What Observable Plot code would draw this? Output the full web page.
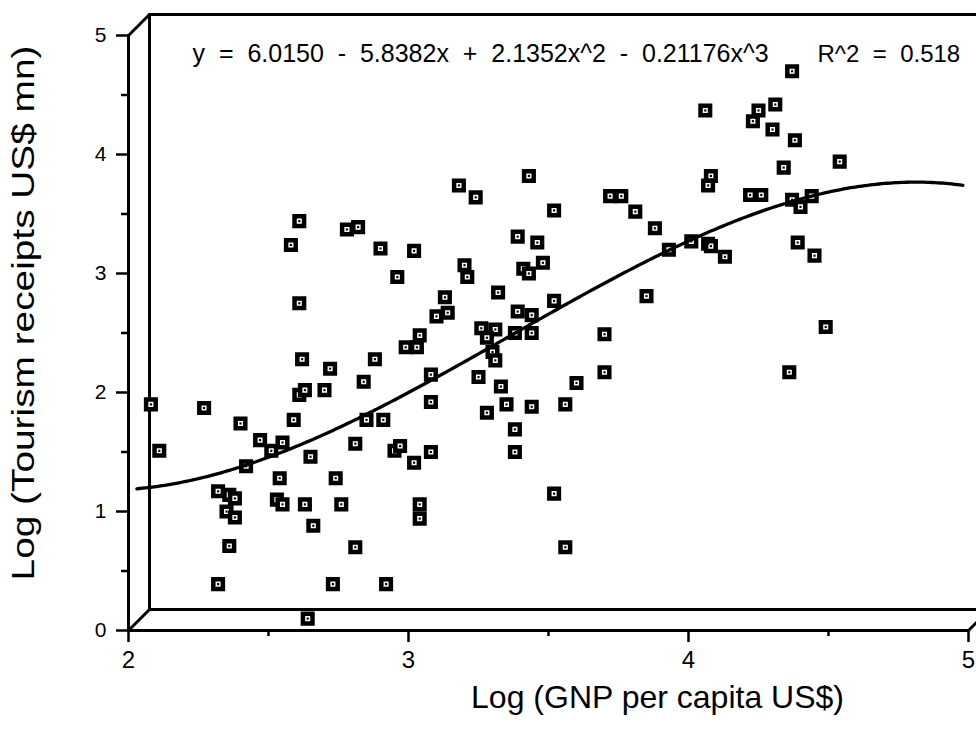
<!DOCTYPE html>
<html>
<head>
<meta charset="utf-8">
<script src="https://cdn.jsdelivr.net/npm/d3@7"></script>
<script src="https://cdn.jsdelivr.net/npm/@observablehq/plot@0.6"></script>
<style>
  html, body { margin: 0; padding: 0; background: #fff; }
  #chart svg { display: block; }
</style>
</head>
<body>
<div id="chart"></div>
<script>
// Log GNP per capita (US$) for each country
const gnp = [
  2.61, 2.78, 2.82, 2.58, 2.90, 3.02, 3.24, 3.52, 3.39, 3.46,
  3.20, 3.21, 2.96, 3.41, 3.43, 3.48, 3.32, 3.13, 2.61, 3.10,
  3.14, 3.39, 3.44, 3.52, 3.26, 3.31, 3.28, 3.38, 3.44, 3.04,
  2.99, 3.03, 3.30, 3.31, 2.62, 2.88, 2.72, 3.25, 3.08, 2.84,
  3.33, 2.61, 2.63, 2.70, 2.08, 2.27, 3.08, 3.35, 3.44, 3.28,
  2.40, 2.59, 2.85, 2.91, 3.38, 3.56, 4.37, 4.06, 4.31, 4.25,
  4.23, 4.30, 4.38, 4.54, 4.34, 4.08, 4.07, 3.72, 3.76, 3.81,
  4.22, 4.26, 4.37, 4.44, 4.40, 3.88, 3.93, 4.01, 4.07, 4.08,
  4.13, 4.39, 4.45, 3.85, 3.70, 4.49, 3.38, 2.11, 2.47, 2.55,
  2.51, 2.65, 2.81, 2.95, 2.97, 3.02, 3.08, 2.42, 2.54, 2.74,
  2.32, 2.36, 2.38, 2.35, 2.38, 2.53, 2.55, 2.63, 2.76, 3.04,
  3.04, 2.66, 2.36, 2.81, 2.32, 2.73, 2.92, 2.64, 3.52, 3.56,
  3.70, 3.60, 4.36, 3.18, 3.43
];

// Log tourism receipts (US$ mn) for the same countries
const tourism = [
  3.44, 3.37, 3.39, 3.24, 3.21, 3.19, 3.64, 3.53, 3.31, 3.26,
  3.07, 2.97, 2.97, 3.04, 3.00, 3.09, 2.84, 2.80, 2.75, 2.64,
  2.67, 2.68, 2.65, 2.77, 2.54, 2.53, 2.46, 2.50, 2.50, 2.48,
  2.38, 2.38, 2.34, 2.27, 2.28, 2.28, 2.20, 2.13, 2.15, 2.09,
  2.05, 1.98, 2.02, 2.02, 1.90, 1.87, 1.92, 1.90, 1.88, 1.83,
  1.74, 1.77, 1.77, 1.77, 1.69, 1.90, 4.70, 4.37, 4.42, 4.37,
  4.28, 4.21, 4.12, 3.94, 3.89, 3.82, 3.74, 3.65, 3.65, 3.52,
  3.66, 3.66, 3.62, 3.65, 3.56, 3.38, 3.20, 3.27, 3.25, 3.23,
  3.14, 3.26, 3.15, 2.81, 2.49, 2.55, 1.50, 1.51, 1.60, 1.58,
  1.51, 1.46, 1.57, 1.51, 1.55, 1.41, 1.50, 1.38, 1.28, 1.28,
  1.17, 1.14, 1.11, 1.00, 0.95, 1.10, 1.06, 1.06, 1.06, 1.06,
  0.94, 0.88, 0.71, 0.70, 0.39, 0.39, 0.39, 0.10, 1.15, 0.70,
  2.17, 2.08, 2.17, 3.74, 3.82
];

// Axis ticks
const xTicks = [2, 3, 4, 5];
const xMinorTicks = [2.5, 3.5, 4.5];
const yTicks = [0, 1, 2, 3, 4, 5];
const yMinorTicks = [0.5, 1.5, 2.5, 3.5, 4.5];

// Titles
const xTitle = "Log (GNP per capita US$)";
const yTitle = "Log (Tourism receipts US$ mn)";

// Cubic fit: coefficients as printed, with their signs
const coefText = ["6.0150", "5.8382", "2.1352", "0.21176"];
const coefSign = [1, -1, 1, -1];
const rSquared = "0.518";
const fitRange = [2.03, 4.98];

const coefs = coefText.map((t, i) => coefSign[i] * Number(t));
const poly = x => coefs[0] + coefs[1] * x + coefs[2] * x * x + coefs[3] * x * x * x;
const termText = ["", "x", "x^2", "x^3"];
const gap = " \u00a0"; // wide gap around operators
const equation = "y" + gap + "=" + gap + coefText.map((t, i) =>
  (i === 0 ? "" : gap + (coefSign[i] < 0 ? "-" : "+") + gap) + t + termText[i]).join("");
const rLabel = "R^2" + gap + "=" + gap + rSquared;
const fitX = d3.range(fitRange[0], fitRange[1] + 1e-9, 0.01);

// Plot geometry
const W = 976, H = 730;
const mL = 128, mR = 8, mT = 35, mB = 100;
const xDomain = [2, 5], yDomain = [0, 5];
// pseudo-3D depth of the back panel, in pixels, converted to data units
const depthPx = 21;
const kx = (W - mL - mR) / (xDomain[1] - xDomain[0]);
const ky = (H - mT - mB) / (yDomain[1] - yDomain[0]);
const dX = depthPx / kx, dY = depthPx / ky;

const frame = [
  // front axes
  {x1: 2, y1: 0, x2: 2, y2: 5},
  {x1: 2, y1: 0, x2: 5, y2: 0},
  // back panel
  {x1: 2 + dX, y1: dY, x2: 2 + dX, y2: 5 + dY},
  {x1: 2 + dX, y1: dY, x2: 5.5, y2: dY},
  {x1: 2 + dX, y1: 5 + dY, x2: 5.5, y2: 5 + dY},
  // depth edges
  {x1: 2, y1: 0, x2: 2 + dX, y2: dY},
  {x1: 2, y1: 5, x2: 2 + dX, y2: 5 + dY},
  {x1: 5, y1: 0, x2: 5 + dX, y2: dY}
];

const idx = d3.range(gnp.length);
const intFormat = d => String(d);
const xLabelSize = 24, yLabelSize = 21;

const chart = Plot.plot({
  width: W,
  height: H,
  marginLeft: mL,
  marginRight: mR,
  marginTop: mT,
  marginBottom: mB,
  style: {
    fontFamily: "'Liberation Sans', Arial, Helvetica, sans-serif",
    color: "black",
    background: "white",
    overflow: "hidden"
  },
  x: {domain: xDomain},
  y: {domain: yDomain},
  marks: [
    Plot.link(frame, {
      x1: "x1", y1: "y1", x2: "x2", y2: "y2",
      stroke: "black", strokeWidth: 3, strokeLinecap: "round"
    }),
    Plot.axisX({ticks: xTicks, tickFormat: intFormat, tickSize: 12, tickPadding: 8, fontSize: xLabelSize, strokeWidth: 2.5, label: null}),
    Plot.axisX({ticks: xMinorTicks, tickFormat: () => "", tickSize: 6, strokeWidth: 2.5, label: null}),
    Plot.axisY({ticks: yTicks, tickFormat: intFormat, tickSize: 12, tickPadding: 10, fontSize: yLabelSize, strokeWidth: 2.5, label: null}),
    Plot.axisY({ticks: yMinorTicks, tickFormat: () => "", tickSize: 7, strokeWidth: 2.5, label: null}),
    // country markers
    Plot.dot(idx, {
      x: i => gnp[i], y: i => tourism[i],
      symbol: "square", r: 5.4, fill: "white", stroke: "black", strokeWidth: 4.5
    }),
    Plot.dot(idx, {
      x: i => gnp[i], y: i => tourism[i],
      symbol: "square", r: 1.2, fill: "black"
    }),
    // fitted cubic
    Plot.line(fitX, {x: d => d, y: d => poly(d), stroke: "black", strokeWidth: 3.3}),
    // fit equation and R^2
    Plot.text([equation], {
      text: d => d, frameAnchor: "top-left", textAnchor: "start", lineAnchor: "bottom",
      dx: 64, dy: 26, fontSize: 25
    }),
    Plot.text([rLabel], {
      text: d => d, frameAnchor: "top-left", textAnchor: "start", lineAnchor: "bottom",
      dx: 689, dy: 26, fontSize: 24
    }),
    // axis titles
    Plot.text([xTitle], {
      text: d => d, frameAnchor: "bottom", textAnchor: "middle", lineAnchor: "middle",
      dx: 109, dy: 67, fontSize: 32
    }),
    Plot.text([yTitle], {
      text: d => d, frameAnchor: "left", textAnchor: "middle", lineAnchor: "middle",
      rotate: -90, dx: -105, dy: -20, fontSize: 32
    })
  ]
});

document.getElementById("chart").append(chart);

// tick label sizes, set on the labels themselves
const svgBox = chart.getBoundingClientRect();
d3.select(chart).selectAll("text")
  .filter(function() { return /^\d$/.test(this.textContent); })
  .each(function() {
    const b = this.getBoundingClientRect();
    const isY = (b.x + b.width - svgBox.x) < mL;
    this.style.fontSize = (isY ? yLabelSize : xLabelSize) + "px";
  });

// the vertical title runs longer than its natural length: stretch it along its baseline
d3.select(chart).selectAll("text")
  .filter(function() { return this.textContent === yTitle; })
  .each(function() {
    const len = this.getComputedTextLength();
    const s = len > 0 ? 535 / len : 1;
    const t = this.getAttribute("transform") || "";
    this.setAttribute("transform", t + ` scale(${s.toFixed(4)},1)`);
  });
</script>
</body>
</html>
